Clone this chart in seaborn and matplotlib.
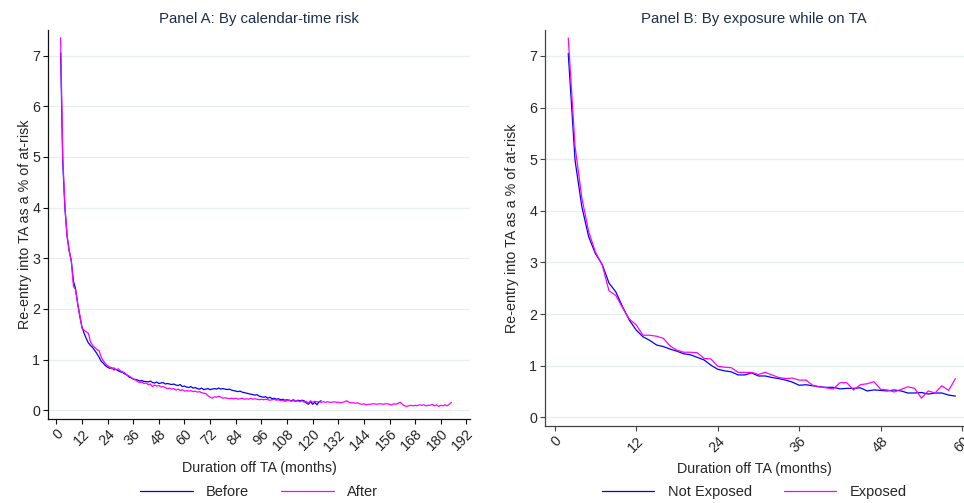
import matplotlib

matplotlib.use("Agg")
import matplotlib.pyplot as plt
import numpy as np
import pandas as pd
import seaborn as sns

# Panel A: re-entry rate by month off TA, before / after
before_start = 2
before_rate = [
    7.05, 4.90, 4.00, 3.45, 3.15, 2.95, 2.55, 2.40, 2.10, 1.85,
    1.65, 1.52, 1.42, 1.33, 1.28, 1.24, 1.18, 1.12, 1.05, 0.97,
    0.93, 0.88, 0.85, 0.83, 0.84, 0.80, 0.81, 0.78, 0.76, 0.75,
    0.72, 0.70, 0.66, 0.64, 0.62, 0.61, 0.60, 0.58, 0.59, 0.57,
    0.57, 0.56, 0.58, 0.55, 0.54, 0.56, 0.53, 0.54, 0.55, 0.52,
    0.53, 0.52, 0.51, 0.52, 0.50, 0.49, 0.51, 0.47, 0.48, 0.46,
    0.45, 0.47, 0.44, 0.45, 0.43, 0.42, 0.44, 0.41, 0.42, 0.43,
    0.41, 0.42, 0.43, 0.42, 0.44, 0.42, 0.43, 0.42, 0.41, 0.42,
    0.40, 0.39, 0.38, 0.37, 0.38, 0.36, 0.35, 0.34, 0.33, 0.32,
    0.31, 0.30, 0.31, 0.28, 0.27, 0.26, 0.27, 0.24, 0.26, 0.23,
    0.24, 0.22, 0.23, 0.21, 0.22, 0.20, 0.21, 0.20, 0.19, 0.21,
    0.18, 0.20, 0.19, 0.20, 0.19, 0.15, 0.12, 0.17, 0.12, 0.16,
    0.11, 0.17, 0.19,
]
after_start = 2
after_rate = [
    7.35, 5.00, 4.05, 3.45, 3.15, 2.95, 2.45, 2.38, 2.10, 1.88,
    1.62, 1.58, 1.55, 1.52, 1.35, 1.28, 1.24, 1.20, 1.18, 1.05,
    0.98, 0.92, 0.88, 0.86, 0.82, 0.84, 0.80, 0.82, 0.78, 0.76,
    0.74, 0.70, 0.68, 0.65, 0.62, 0.60, 0.57, 0.55, 0.56, 0.53,
    0.54, 0.51, 0.52, 0.47, 0.50, 0.48, 0.49, 0.46, 0.47, 0.45,
    0.43, 0.44, 0.42, 0.43, 0.40, 0.42, 0.39, 0.41, 0.38, 0.39,
    0.38, 0.39, 0.37, 0.38, 0.36, 0.37, 0.35, 0.34, 0.33, 0.29,
    0.26, 0.24, 0.27, 0.26, 0.28, 0.26, 0.24, 0.25, 0.24, 0.23,
    0.24, 0.23, 0.24, 0.22, 0.23, 0.24, 0.22, 0.23, 0.22, 0.24,
    0.22, 0.23, 0.22, 0.21, 0.22, 0.21, 0.22, 0.21, 0.20, 0.21,
    0.22, 0.20, 0.21, 0.19, 0.20, 0.18, 0.19, 0.20, 0.18, 0.19,
    0.18, 0.19, 0.17, 0.19, 0.16, 0.18, 0.14, 0.19, 0.16, 0.18,
    0.17, 0.17, 0.16, 0.17, 0.16, 0.17, 0.16, 0.16, 0.17, 0.16,
    0.16, 0.15, 0.16, 0.17, 0.19, 0.16, 0.15, 0.15, 0.14, 0.15,
    0.13, 0.12, 0.13, 0.11, 0.12, 0.12, 0.13, 0.13, 0.12, 0.13,
    0.13, 0.12, 0.13, 0.13, 0.12, 0.11, 0.13, 0.12, 0.14, 0.16,
    0.12, 0.09, 0.08, 0.09, 0.10, 0.09, 0.10, 0.09, 0.11, 0.10,
    0.11, 0.09, 0.10, 0.10, 0.12, 0.09, 0.11, 0.08, 0.10, 0.09,
    0.11, 0.09, 0.12, 0.16,
]

# Panel B: re-entry rate by exposure while on TA
exposure_start = 2
not_exposed_rate = [
    7.05, 4.98, 4.08, 3.50, 3.17, 2.96, 2.60, 2.43, 2.14, 1.88,
    1.69, 1.56, 1.49, 1.40, 1.37, 1.32, 1.28, 1.23, 1.21, 1.16,
    1.11, 1.01, 0.93, 0.90, 0.88, 0.82, 0.82, 0.86, 0.80, 0.80,
    0.77, 0.75, 0.72, 0.68, 0.62, 0.63, 0.61, 0.59, 0.58, 0.58,
    0.55, 0.56, 0.56, 0.57, 0.51, 0.53, 0.52, 0.51, 0.53, 0.51,
    0.47, 0.47, 0.48, 0.45, 0.47, 0.47, 0.43, 0.41,
]
exposed_rate = [
    7.35, 5.25, 4.25, 3.60, 3.20, 2.95, 2.45, 2.36, 2.12, 1.90,
    1.79, 1.59, 1.59, 1.57, 1.53, 1.38, 1.30, 1.26, 1.26, 1.25,
    1.14, 1.13, 0.99, 0.97, 0.96, 0.87, 0.87, 0.87, 0.83, 0.87,
    0.82, 0.77, 0.75, 0.76, 0.72, 0.72, 0.62, 0.59, 0.57, 0.55,
    0.67, 0.67, 0.53, 0.63, 0.65, 0.69, 0.54, 0.53, 0.49, 0.54,
    0.59, 0.56, 0.37, 0.51, 0.47, 0.61, 0.52, 0.75,
]

YLABEL = "Re-entry into TA as a % of at-risk"
XLABEL = "Duration off TA (months)"
BLUE = "#0000ff"
MAGENTA = "#ff00ff"
TITLE_COLOR = "#1e2d4f"
FS = 10.3


def to_frame(start, values, label):
    months = np.arange(start, start + len(values))
    return pd.DataFrame({"month": months, "rate": values, "group": label})


def style_panel(ax, title, xticks, xlim, spine_color, ylabelpad):
    ax.set_xlim(*xlim)
    ax.set_ylim(-0.17, 7.5)
    ax.set_yticks(range(0, 8))
    ax.set_xticks(xticks)
    ax.set_xticklabels([str(t) for t in xticks], rotation=45, ha="right",
                       rotation_mode="anchor", fontsize=FS)
    ax.tick_params(axis="y", labelsize=FS, length=3.6, width=0.8, color=spine_color, pad=2)
    ax.tick_params(axis="x", length=3.6, width=0.8, color=spine_color, pad=2)
    ax.grid(axis="y", color="#e6eef0", linewidth=0.9)
    ax.grid(axis="x", visible=False)
    ax.set_axisbelow(True)
    for side in ["top", "right"]:
        ax.spines[side].set_visible(False)
    for side in ["left", "bottom"]:
        ax.spines[side].set_color(spine_color)
        ax.spines[side].set_linewidth(0.9)
    ax.set_title(title, fontsize=10.8, color=TITLE_COLOR, pad=5)
    ax.set_xlabel(XLABEL, fontsize=FS, labelpad=5)
    ax.set_ylabel(YLABEL, fontsize=FS, labelpad=ylabelpad)


def main():
    sns.set_theme(style="ticks")
    plt.rcParams["font.family"] = ["Liberation Sans", "DejaVu Sans"]

    fig = plt.figure(figsize=(9.64, 5.03), dpi=100)
    ax_a = fig.add_axes([0.0498, 0.167, 0.4378, 0.773])
    ax_b = fig.add_axes([0.5653, 0.153, 0.4342, 0.787])

    df_a = pd.concat([
        to_frame(before_start, before_rate, "Before"),
        to_frame(after_start, after_rate, "After"),
    ])
    sns.lineplot(data=df_a, x="month", y="rate", hue="group",
                 palette={"Before": BLUE, "After": MAGENTA},
                 linewidth=0.9, ax=ax_a)
    style_panel(ax_a, "Panel A: By calendar-time risk", list(range(0, 193, 12)),
                (-3.9, 193.7), "#111111", 0.5)

    df_b = pd.concat([
        to_frame(exposure_start, not_exposed_rate, "Not Exposed"),
        to_frame(exposure_start, exposed_rate, "Exposed"),
    ])
    sns.lineplot(data=df_b, x="month", y="rate", hue="group",
                 palette={"Not Exposed": BLUE, "Exposed": MAGENTA},
                 linewidth=0.9, ax=ax_b)
    style_panel(ax_b, "Panel B: By exposure while on TA", list(range(0, 61, 12)),
                (-1.43, 60.19), "#444444", 7)

    for ax, yanchor in [(ax_a, -0.188), (ax_b, -0.167)]:
        handles, labels = ax.get_legend_handles_labels()
        ax.legend(handles, labels, loc="center", bbox_to_anchor=(0.5, yanchor),
                  ncol=2, frameon=False, fontsize=10.5, handlelength=3.6,
                  columnspacing=2.2, handletextpad=0.9)

    fig.savefig("out.png", dpi=100)
    plt.close(fig)


if __name__ == "__main__":
    main()
